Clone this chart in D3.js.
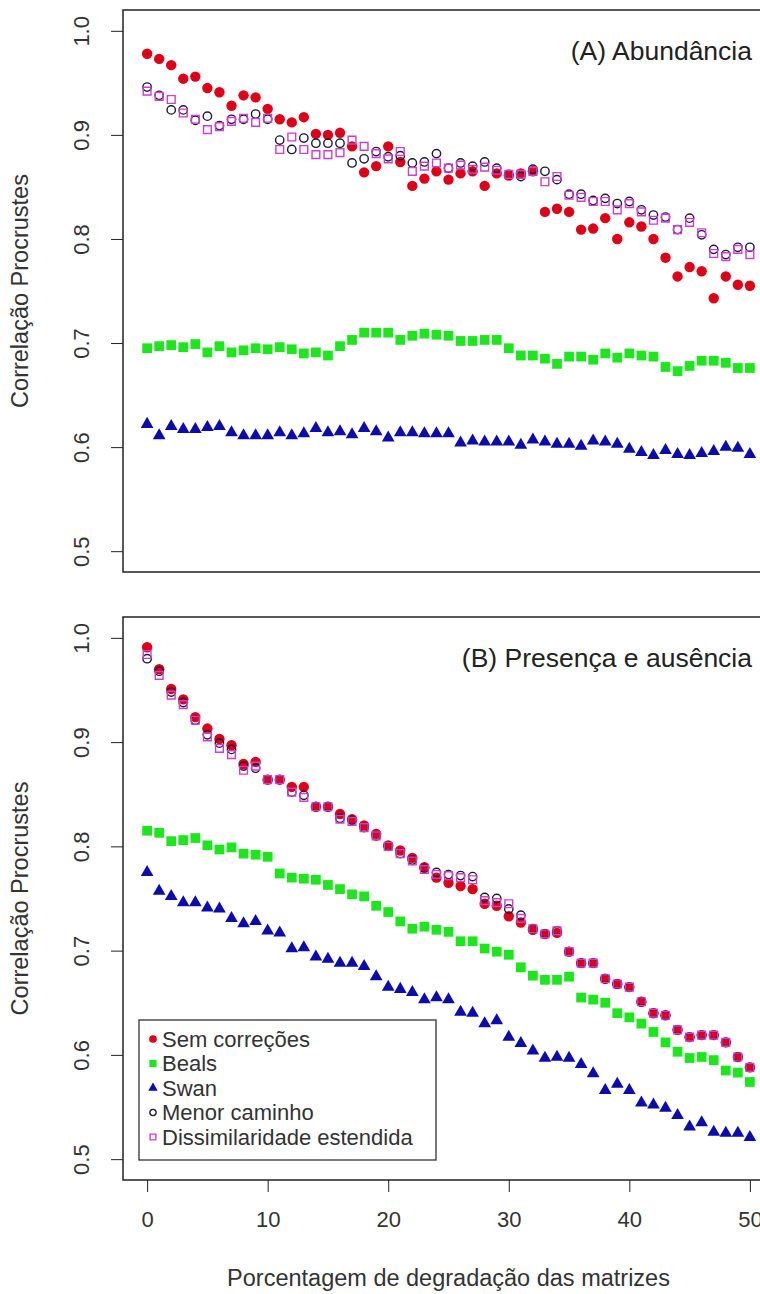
<!DOCTYPE html>
<html><head><meta charset="utf-8">
<script src="https://cdn.jsdelivr.net/npm/d3@7"></script>
<style>
html,body{margin:0;padding:0;background:#fff;}
svg{display:block;font-family:"Liberation Sans",Arial,sans-serif;}
</style></head><body>
<svg id="chart" width="760" height="1294"></svg>
<script>
// Degradation percentage (x) and axis ticks
const degradation = d3.range(0, 51);
const xTicks = [0, 10, 20, 30, 40, 50];
const yTicks = [0.5, 0.6, 0.7, 0.8, 0.9, 1.0];
const seriesNames = ["Sem correções", "Beals", "Swan", "Menor caminho", "Dissimilaridade estendida"];

// (A) Abundância
const abSem = [0.978,0.973,0.967,0.954,0.956,0.945,0.941,0.928,0.938,0.936,
  0.925,0.915,0.912,0.917,0.901,0.900,0.902,0.889,0.864,0.870,
  0.889,0.874,0.851,0.858,0.865,0.857,0.863,0.865,0.851,0.863,
  0.861,0.863,0.865,0.826,0.829,0.826,0.809,0.810,0.820,0.800,
  0.816,0.812,0.800,0.782,0.764,0.773,0.769,0.743,0.764,0.756,0.755];
const abBeals = [0.695,0.697,0.698,0.696,0.699,0.691,0.697,0.691,0.693,0.695,
  0.694,0.696,0.694,0.690,0.691,0.688,0.697,0.703,0.710,0.710,
  0.710,0.703,0.707,0.709,0.708,0.707,0.702,0.702,0.703,0.703,
  0.695,0.688,0.688,0.685,0.680,0.687,0.687,0.684,0.690,0.686,
  0.690,0.688,0.687,0.677,0.673,0.678,0.683,0.683,0.681,0.676,0.676];
const abSwan = [0.622,0.611,0.620,0.617,0.617,0.619,0.620,0.614,0.611,0.611,
  0.611,0.614,0.611,0.613,0.618,0.614,0.615,0.612,0.618,0.615,
  0.609,0.614,0.614,0.613,0.613,0.613,0.604,0.606,0.605,0.605,
  0.605,0.602,0.607,0.605,0.603,0.603,0.601,0.606,0.605,0.603,
  0.598,0.595,0.592,0.597,0.593,0.592,0.594,0.596,0.600,0.599,0.593];
const abMenor = [0.946,0.938,0.924,0.924,0.914,0.918,0.909,0.915,0.915,0.920,
  0.915,0.895,0.886,0.897,0.892,0.892,0.892,0.873,0.877,0.884,
  0.879,0.880,0.873,0.874,0.882,0.868,0.873,0.870,0.874,0.868,
  0.862,0.860,0.867,0.865,0.857,0.843,0.843,0.837,0.839,0.834,
  0.836,0.828,0.823,0.821,0.809,0.820,0.804,0.790,0.785,0.792,0.792];
const abDiss = [0.942,0.937,0.934,0.921,0.915,0.905,0.908,0.913,0.916,0.912,
  0.916,0.886,0.898,0.886,0.881,0.881,0.883,0.895,0.889,0.882,
  0.877,0.884,0.865,0.870,0.873,0.868,0.871,0.867,0.869,0.866,
  0.862,0.862,0.865,0.855,0.860,0.842,0.840,0.836,0.836,0.828,
  0.834,0.826,0.818,0.820,0.809,0.816,0.806,0.786,0.783,0.790,0.785];

// (B) Presença e ausência
const paSem = [0.991,0.970,0.951,0.941,0.924,0.913,0.903,0.897,0.879,0.881,
  0.864,0.864,0.857,0.857,0.838,0.838,0.831,0.826,0.820,0.812,
  0.801,0.796,0.789,0.780,0.770,0.765,0.762,0.759,0.745,0.743,
  0.733,0.727,0.720,0.716,0.717,0.699,0.688,0.688,0.673,0.668,
  0.665,0.651,0.640,0.638,0.624,0.617,0.619,0.619,0.612,0.598,0.588];
const paBeals = [0.815,0.813,0.805,0.806,0.808,0.801,0.797,0.799,0.793,0.792,
  0.790,0.774,0.770,0.769,0.768,0.763,0.759,0.754,0.752,0.743,
  0.737,0.728,0.721,0.723,0.720,0.718,0.709,0.709,0.702,0.699,
  0.696,0.684,0.676,0.672,0.672,0.675,0.655,0.653,0.650,0.640,
  0.636,0.630,0.622,0.612,0.603,0.597,0.598,0.595,0.585,0.583,0.574];
const paSwan = [0.775,0.757,0.752,0.746,0.746,0.741,0.740,0.731,0.726,0.728,
  0.719,0.717,0.702,0.703,0.694,0.692,0.688,0.688,0.685,0.675,
  0.665,0.663,0.660,0.653,0.655,0.653,0.641,0.640,0.630,0.633,
  0.617,0.611,0.604,0.597,0.598,0.597,0.591,0.582,0.566,0.572,
  0.566,0.554,0.552,0.549,0.542,0.531,0.535,0.526,0.525,0.525,0.521];
const paMenor = [0.980,0.968,0.948,0.938,0.921,0.907,0.899,0.893,0.877,0.875,
  0.864,0.864,0.852,0.849,0.838,0.838,0.827,0.825,0.818,0.810,
  0.800,0.793,0.787,0.779,0.775,0.773,0.772,0.771,0.751,0.750,
  0.740,0.734,0.721,0.716,0.719,0.699,0.688,0.688,0.673,0.668,
  0.665,0.651,0.640,0.638,0.624,0.617,0.619,0.619,0.612,0.598,0.588];
const paDiss = [0.984,0.964,0.945,0.936,0.921,0.905,0.894,0.888,0.873,0.877,
  0.864,0.864,0.852,0.847,0.838,0.838,0.826,0.824,0.818,0.810,
  0.800,0.793,0.786,0.778,0.773,0.772,0.770,0.768,0.748,0.746,
  0.745,0.731,0.721,0.716,0.719,0.699,0.688,0.688,0.673,0.668,
  0.665,0.651,0.640,0.638,0.624,0.617,0.619,0.619,0.612,0.598,0.588];

const panels = [
  {label: "(A) Abundância", top: 10, bottom: 572, series: [abSem, abBeals, abSwan, abMenor, abDiss], xAxis: false},
  {label: "(B) Presença e ausência", top: 617, bottom: 1180, series: [paSem, paBeals, paSwan, paMenor, paDiss], xAxis: true}
];

// Marker styles per series
const styles = [
  {type: d3.symbolCircle,   size: 85, fill: "#dc0018", stroke: "none", sw: 0},
  {type: d3.symbolSquare,   size: 95, fill: "#1ee61e", stroke: "none", sw: 0},
  {type: d3.symbolTriangle, size: 70, fill: "#0c0caa", stroke: "none", sw: 0},
  {type: d3.symbolCircle,   size: 55, fill: "none", stroke: "#1b1b33", sw: 1.4},
  {type: d3.symbolSquare,   size: 60, fill: "none", stroke: "#cc3fcc", sw: 1.4}
];

const svg = d3.select("#chart");
const left = 123, right = 774;
const x = d3.scaleLinear().domain([-2, 52]).range([left, right]);
const tickFont = 22, titleFont = 23.5, labelFont = 26.5, legendFont = 22;

panels.forEach(p => {
  const y = d3.scaleLinear().domain([0.48, 1.02]).range([p.bottom, p.top]);
  const g = svg.append("g");

  // points
  p.series.forEach((vals, si) => {
    const st = styles[si];
    g.append("g").selectAll("path").data(vals).join("path")
      .attr("transform", (v, i) => `translate(${x(degradation[i])},${y(v)})`)
      .attr("d", d3.symbol().type(st.type).size(st.size))
      .attr("fill", st.fill).attr("stroke", st.stroke).attr("stroke-width", st.sw);
  });

  // frame
  g.append("rect").attr("x", left).attr("y", p.top)
    .attr("width", right - left).attr("height", p.bottom - p.top)
    .attr("fill", "none").attr("stroke", "#222").attr("stroke-width", 1.5);

  // y axis
  const ya = g.append("g").attr("transform", `translate(${left},0)`)
    .call(d3.axisLeft(y).tickValues(yTicks).tickFormat(d3.format(".1f")).tickSize(12).tickSizeOuter(0));
  ya.select(".domain").remove();
  ya.selectAll(".tick line").attr("stroke", "#222");
  ya.selectAll(".tick text")
    .attr("x", null).attr("dy", null)
    .attr("transform", "translate(-34,0) rotate(-90)")
    .attr("text-anchor", "middle")
    .attr("font-size", tickFont).attr("fill", "#333");

  g.append("text")
    .attr("transform", `translate(28,${(p.top + p.bottom) / 2}) rotate(-90)`)
    .attr("text-anchor", "middle").attr("font-size", titleFont).attr("fill", "#333")
    .text("Correlação Procrustes");

  g.append("text").attr("x", 752).attr("y", p.top + 50)
    .attr("text-anchor", "end").attr("font-size", labelFont).attr("fill", "#222")
    .text(p.label);

  if (p.xAxis) {
    const xa = g.append("g").attr("transform", `translate(0,${p.bottom})`)
      .call(d3.axisBottom(x).tickValues(xTicks).tickSize(12).tickSizeOuter(0));
    xa.select(".domain").remove();
    xa.selectAll(".tick line").attr("stroke", "#222");
    xa.selectAll(".tick text").attr("y", 31).attr("dy", "0.71em")
      .attr("font-size", tickFont).attr("fill", "#333");

    g.append("text").attr("x", (left + right) / 2).attr("y", 1286)
      .attr("text-anchor", "middle").attr("font-size", titleFont).attr("fill", "#333")
      .text("Porcentagem de degradação das matrizes");

    // legend
    const lg = g.append("g");
    lg.append("rect").attr("x", 139).attr("y", 1020).attr("width", 297).attr("height", 140)
      .attr("fill", "#fff").attr("stroke", "#333").attr("stroke-width", 1.3);
    seriesNames.forEach((name, si) => {
      const st = styles[si];
      const cy = 1039 + si * 24.5;
      lg.append("path").attr("transform", `translate(153,${cy})`)
        .attr("d", d3.symbol().type(st.type).size(st.size * 0.55))
        .attr("fill", st.fill).attr("stroke", st.stroke).attr("stroke-width", st.sw);
      lg.append("text").attr("x", 162).attr("y", cy).attr("dy", "0.36em")
        .attr("font-size", legendFont).attr("fill", "#333").text(name);
    });
  }
});
</script>
</body></html>
